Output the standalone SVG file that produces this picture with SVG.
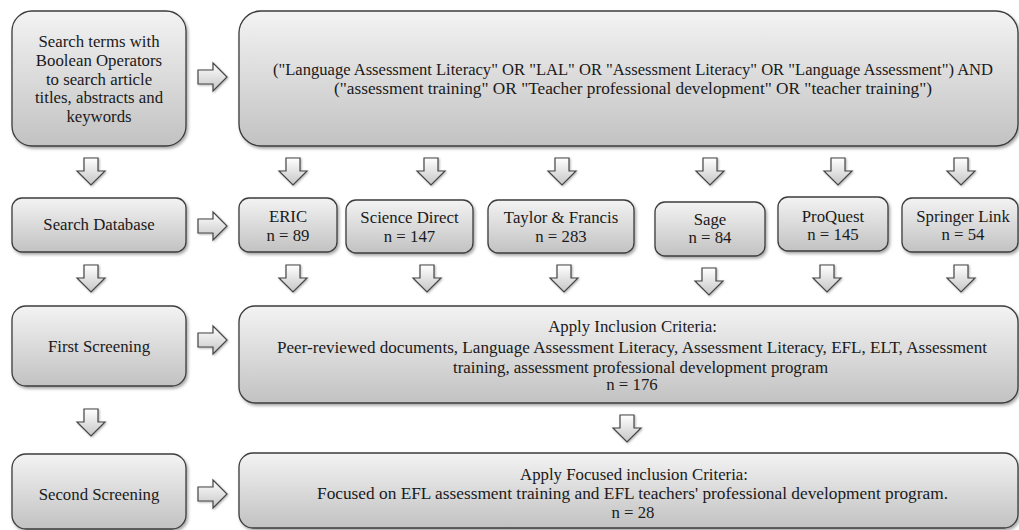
<svg xmlns="http://www.w3.org/2000/svg" width="1019" height="530" viewBox="0 0 1019 530">
  <style>
    .box { fill: url(#boxFill); stroke: #3c3c3c; stroke-width: 1.3; filter: url(#shadow); }
    .arrow { fill: url(#arrowFill); stroke: #454545; stroke-width: 1.2; stroke-linejoin: miter; filter: url(#softShadow); }
    text { font-family: "Liberation Serif", "DejaVu Serif", serif; font-size: 16.8px; fill: #1a1a1a; text-anchor: middle; }
  </style>
  <defs>
    <linearGradient id="boxFill" x1="0" y1="0" x2="0" y2="1">
      <stop offset="0" stop-color="#f3f3f3"/>
      <stop offset="1" stop-color="#c2c2c2"/>
    </linearGradient>
    <linearGradient id="arrowFill" x1="0" y1="0" x2="0" y2="1">
      <stop offset="0" stop-color="#ffffff"/>
      <stop offset="1" stop-color="#c6c6c6"/>
    </linearGradient>
    <filter id="shadow" x="-10%" y="-10%" width="120%" height="130%">
      <feDropShadow dx="1.5" dy="2" stdDeviation="1.5" flood-color="#000" flood-opacity="0.35"/>
    </filter>
    <filter id="softShadow" x="-20%" y="-20%" width="150%" height="150%">
      <feDropShadow dx="1" dy="1" stdDeviation="0.8" flood-color="#000" flood-opacity="0.3"/>
    </filter>
    <path id="arrowRight" d="M0,7 H15 V0 L29,14 L15,28 V21 H0 Z"/>
    <path id="arrowDown" d="M7,0 H21 V13 H28 L14,27 L0,13 H7 Z"/>
  </defs>

  <!-- connectors -->
  <g id="connectors">
    <use href="#arrowRight" class="arrow" x="198" y="63"/>
    <use href="#arrowRight" class="arrow" x="198" y="212"/>
    <use href="#arrowRight" class="arrow" x="198" y="326"/>
    <use href="#arrowRight" class="arrow" x="198" y="480"/>

    <use href="#arrowDown" class="arrow" x="77" y="158"/>
    <use href="#arrowDown" class="arrow" x="279" y="158"/>
    <use href="#arrowDown" class="arrow" x="417" y="158"/>
    <use href="#arrowDown" class="arrow" x="548" y="158"/>
    <use href="#arrowDown" class="arrow" x="696" y="158"/>
    <use href="#arrowDown" class="arrow" x="824" y="158"/>
    <use href="#arrowDown" class="arrow" x="947" y="158"/>

    <use href="#arrowDown" class="arrow" x="77" y="265"/>
    <use href="#arrowDown" class="arrow" x="279" y="265"/>
    <use href="#arrowDown" class="arrow" x="413" y="265"/>
    <use href="#arrowDown" class="arrow" x="550" y="265"/>
    <use href="#arrowDown" class="arrow" x="695" y="268"/>
    <use href="#arrowDown" class="arrow" x="813" y="265"/>
    <use href="#arrowDown" class="arrow" x="947" y="265"/>

    <use href="#arrowDown" class="arrow" x="77" y="409"/>
    <use href="#arrowDown" class="arrow" x="613" y="415"/>
  </g>

  <g id="search-terms">
    <rect class="box" x="12" y="11" width="174" height="135" rx="20"/>
    <text x="99" y="47">Search terms with</text>
    <text x="99" y="65.8">Boolean Operators</text>
    <text x="99" y="84.6">to search article</text>
    <text x="99" y="103.4">titles, abstracts and</text>
    <text x="99" y="122.2">keywords</text>
  </g>

  <g id="query">
    <rect class="box" x="239" y="11" width="779" height="135" rx="22"/>
    <text x="633" y="75" textLength="720" lengthAdjust="spacingAndGlyphs">("Language Assessment Literacy" OR "LAL" OR "Assessment Literacy" OR "Language Assessment") AND</text>
    <text x="633" y="94" textLength="598" lengthAdjust="spacingAndGlyphs">("assessment training" OR "Teacher professional development" OR "teacher training")</text>
  </g>

  <g id="search-database">
    <rect class="box" x="12" y="198" width="174" height="54" rx="10"/>
    <text x="99" y="230">Search Database</text>
  </g>

  <g id="eric">
    <rect class="box" x="239" y="198" width="98" height="54" rx="10"/>
    <text x="288" y="222">ERIC</text>
    <text x="288" y="241">n = 89</text>
  </g>

  <g id="science-direct">
    <rect class="box" x="346" y="200" width="127" height="53" rx="10"/>
    <text x="409.5" y="223">Science Direct</text>
    <text x="409.5" y="242">n = 147</text>
  </g>

  <g id="taylor-francis">
    <rect class="box" x="488" y="200" width="146" height="53" rx="10"/>
    <text x="561" y="223">Taylor &amp; Francis</text>
    <text x="561" y="242">n = 283</text>
  </g>

  <g id="sage">
    <rect class="box" x="655" y="202" width="110" height="54" rx="10"/>
    <text x="710" y="225">Sage</text>
    <text x="710" y="243">n = 84</text>
  </g>

  <g id="proquest">
    <rect class="box" x="778" y="197" width="110" height="54" rx="10"/>
    <text x="833" y="222">ProQuest</text>
    <text x="833" y="240">n = 145</text>
  </g>

  <g id="springer-link">
    <rect class="box" x="902" y="198" width="116" height="54" rx="10"/>
    <text x="963" y="222">Springer Link</text>
    <text x="963" y="240">n = 54</text>
  </g>

  <g id="first-screening">
    <rect class="box" x="12" y="306" width="174" height="80" rx="14"/>
    <text x="99" y="352">First Screening</text>
  </g>

  <g id="inclusion-criteria">
    <rect class="box" x="239" y="306" width="779" height="97" rx="16"/>
    <text x="632.5" y="332">Apply Inclusion Criteria:</text>
    <text x="632" y="353" textLength="710" lengthAdjust="spacingAndGlyphs">Peer-reviewed documents, Language Assessment  Literacy, Assessment Literacy, EFL, ELT, Assessment</text>
    <text x="640.5" y="373" textLength="375" lengthAdjust="spacingAndGlyphs">training, assessment  professional development program</text>
    <text x="632" y="390">n = 176</text>
  </g>

  <g id="second-screening">
    <rect class="box" x="12" y="454" width="174" height="75" rx="14"/>
    <text x="99" y="500">Second Screening</text>
  </g>

  <g id="focused-criteria">
    <rect class="box" x="239" y="453" width="779" height="75" rx="14"/>
    <text x="634" y="480">Apply Focused inclusion Criteria:</text>
    <text x="632.5" y="499" textLength="631" lengthAdjust="spacingAndGlyphs">Focused on EFL assessment training and EFL teachers' professional development program.</text>
    <text x="633" y="518">n = 28</text>
  </g>
</svg>
